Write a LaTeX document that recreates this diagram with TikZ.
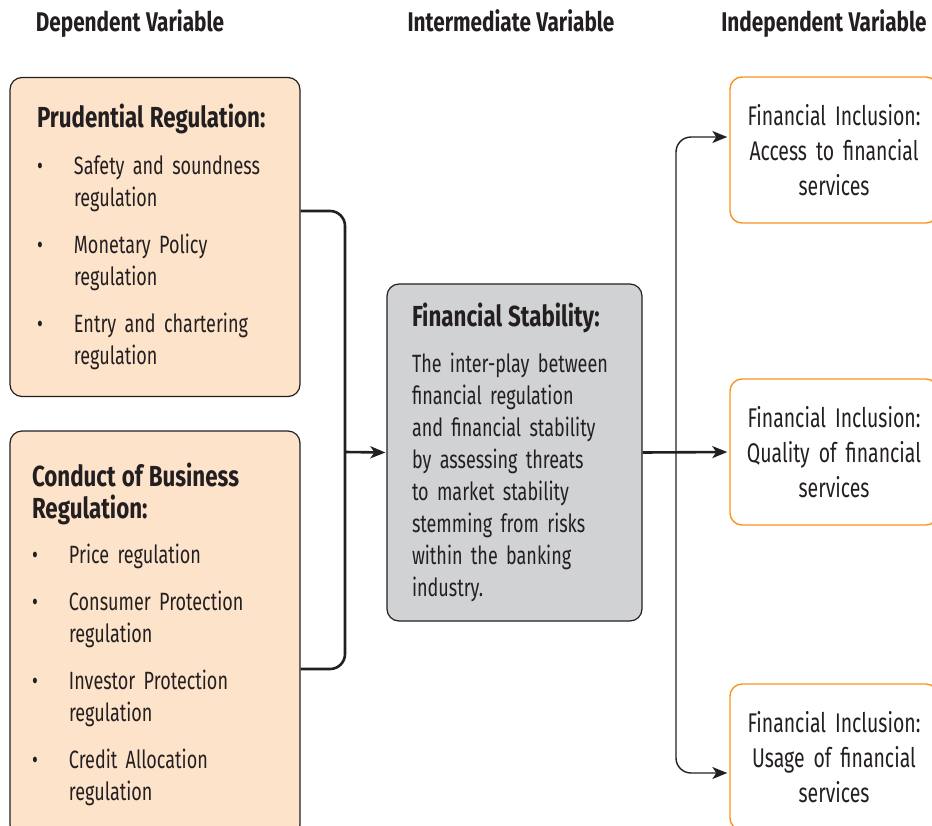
\documentclass[tikz,border=0pt]{standalone}
\usepackage{fontspec}
\setmainfont{Fira Sans}[FakeStretch=0.72,
  BoldFeatures={FakeStretch=0.77}]
\usetikzlibrary{arrows.meta}
\definecolor{peach}{HTML}{FDE3CA}
\definecolor{panel}{HTML}{D1D2D4}
\definecolor{amber}{HTML}{F7941D}
\definecolor{ink}{HTML}{231F20}
\definecolor{bodyink}{HTML}{333333}
\newcommand{\tightspace}[1]{\spaceskip #1 plus 1pt minus 0.5pt\relax}
\newcommand{\regtitle}{\fontsize{29}{32}\selectfont\bfseries\color{ink}\tightspace{6pt}}
\newcommand{\regitem}[1]{\makebox[37pt][l]{\textbullet}#1}
\newcommand{\regmore}[1]{\hspace*{37pt}#1}

\begin{document}
\begin{tikzpicture}[
  x = 1pt, y = -1pt,
  every node/.style = {inner sep = 0pt, text = ink},
  varhead/.style = {anchor = base, font = {\fontsize{27}{28}\selectfont\bfseries\tightspace{5.5pt}}},
  regbox/.style = {draw = ink, line width = 1.2pt, rounded corners = 12pt,
                   fill = peach, minimum width = 290pt, align = left,
                   font = {\fontsize{25}{32}\selectfont\color{bodyink}\tightspace{5pt}}},
  stabbox/.style = {draw = ink, line width = 1.2pt, rounded corners = 12pt,
                    fill = panel, minimum width = 255pt, minimum height = 337pt,
                    inner xsep = 25pt, text width = 205pt, align = left,
                    font = {\fontsize{25}{32}\selectfont\color{bodyink}\tightspace{5pt}}},
  inclbox/.style = {draw = amber, line width = 1.4pt, rounded corners = 12pt,
                    minimum width = 208pt, minimum height = 146pt,
                    text width = 200pt, align = center,
                    font = {\fontsize{27}{35}\selectfont\tightspace{5.5pt}}},
  mergeline/.style = {line width = 2.6pt, draw = ink, rounded corners = 15pt},
  feed/.style = {line width = 2.6pt, draw = ink,
                 -{Stealth[length = 15pt, width = 12pt, inset = 4pt]}},
  fan/.style = {line width = 1.4pt, draw = ink, rounded corners = 15pt,
                {Stealth[length = 15pt, width = 12pt, inset = 4pt]}-{Stealth[length = 15pt, width = 12pt, inset = 4pt]}},
  ]
  \useasboundingbox (0,0) rectangle (932,825);

  \node[varhead] (dephead) at (130,31) {Dependent Variable};
  \node[varhead] (midhead) at (511,31) {Intermediate Variable};
  \node[varhead] (indhead) at (824,31) {Independent Variable};

  \node[regbox, minimum height = 319pt, inner xsep = 27pt, text width = 236pt]
    (prud) at (155,237) {%
      {\regtitle Prudential Regulation:}\\[15pt]
      \regitem{Safety and soundness}\\
      \regmore{regulation}\\[15pt]
      \regitem{Monetary Policy}\\
      \regmore{regulation}\\[15pt]
      \regitem{Entry and chartering}\\
      \regmore{regulation}};

  \node[regbox, minimum height = 406pt, inner xsep = 22pt, text width = 246pt]
    (cond) at (155,634) {%
      {\regtitle Conduct of Business}\\
      {\regtitle Regulation:}\\[13pt]
      \regitem{Price regulation}\\[15pt]
      \regitem{Consumer Protection}\\
      \regmore{regulation}\\[15pt]
      \regitem{Investor Protection}\\
      \regmore{regulation}\\[15pt]
      \regitem{Credit Allocation}\\
      \regmore{regulation}};

  \node[stabbox] (stab) at (514.5,452.5) {%
    {\regtitle Financial Stability:}\\[14pt]
    The inter-play between\\
    financial regulation\\
    and financial stability\\
    by assessing threats\\
    to market stability\\
    stemming from risks\\
    within the banking\\
    industry.};

  \node[inclbox] (access) at (834,150) {Financial Inclusion:\\ Access to financial\\ services};
  \node[inclbox] (quality) at (834,452) {Financial Inclusion:\\ Quality of financial\\ services};
  \node[inclbox] (usage) at (834,757) {Financial Inclusion:\\ Usage of financial\\ services};

  \coordinate (merge) at (345,452);
  \coordinate (split) at (676,452);

  \draw[mergeline] ([yshift = 26pt]prud.east) -| (merge) |- ([yshift = -35pt]cond.east);
  \draw[feed, shorten >= 1pt] (merge) -- (stab.west);
  \draw[feed, shorten >= 2pt] (stab.east) -- (quality.west);
  \draw[fan, shorten <= 2pt, shorten >= 2pt]
    ([yshift = 13pt]access.west) -| (split) |- ([yshift = -16pt]usage.west);
\end{tikzpicture}
\end{document}
